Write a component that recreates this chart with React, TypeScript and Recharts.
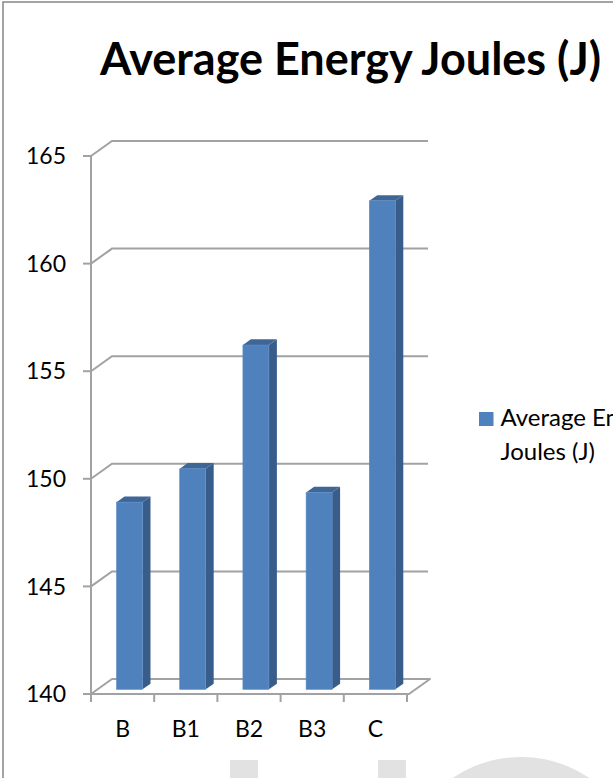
import React from "react";
import { BarChart, Bar, XAxis, YAxis, CartesianGrid } from "recharts";

// ---- data ----
const CATEGORIES = ["B", "B1", "B2", "B3", "C"];
const VALUES = [148.7, 150.25, 156.0, 149.15, 162.7];
const Y_TICKS = [140, 145, 150, 155, 160, 165];
const SERIES_NAME = "Average Energy Joules (J)";
const TITLE = "Average Energy Joules (J)";

const data = CATEGORIES.map((c, i) => ({ name: c, value: VALUES[i] }));

// ---- layout / style ----
const W = 613;
const H = 778;
const Y_AXIS_W = 60;
const X_AXIS_H = 30;
const MARGIN = { top: 156, right: 206, bottom: 54, left: 31 };
const PLOT_LEFT = MARGIN.left + Y_AXIS_W;
const PLOT_RIGHT = W - MARGIN.right;
const PLOT_BOTTOM = H - MARGIN.bottom - X_AXIS_H;
const BAND = (PLOT_RIGHT - PLOT_LEFT) / CATEGORIES.length;
const DEPTH_DX = 21;
const DEPTH_DY = 15;
const BAR_FRONT = 0.31;
const BAR_BACK = 0.69;
const GRID = "#a2a2a2";
const FONT = "Lato, 'Open Sans', sans-serif";
const FRONT_C = "#4f81bd";
const SIDE_C = "#385d8a";
const TOP_C = "#3e6797";

const GridLine = (props: any) => {
  const { x1, x2, y1 } = props;
  const y = y1;
  const isFloor = Math.abs(y - PLOT_BOTTOM) < 1.5;
  if (isFloor) {
    const d = `M${x1},${y} L${x2 + 2},${y} L${x2 + 2 + DEPTH_DX},${y - DEPTH_DY} L${x1 + DEPTH_DX},${y - DEPTH_DY} Z`;
    return <path d={d} fill="none" stroke={GRID} strokeWidth={2} strokeLinejoin="round" />;
  }
  const d = `M${x1},${y} L${x1 + DEPTH_DX},${y - DEPTH_DY} L${x2 + DEPTH_DX},${y - DEPTH_DY}`;
  return <path d={d} fill="none" stroke={GRID} strokeWidth={2} />;
};

const Bar3D = (props: any) => {
  const { x, y, width, height } = props;
  const fx = x + DEPTH_DX * BAR_FRONT;
  const fy = y - DEPTH_DY * BAR_FRONT;
  const sd = DEPTH_DX * (BAR_BACK - BAR_FRONT);
  const sh = DEPTH_DY * (BAR_BACK - BAR_FRONT);
  const side = `M${fx + width},${fy} L${fx + width + sd},${fy - sh} L${fx + width + sd},${fy + height - sh} L${fx + width},${fy + height} Z`;
  const top = `M${fx},${fy} L${fx + sd},${fy - sh} L${fx + width + sd},${fy - sh} L${fx + width},${fy} Z`;
  return (
    <g>
      <path d={side} fill={SIDE_C} />
      <path d={top} fill={TOP_C} />
      <rect x={fx} y={fy} width={width} height={height} fill={FRONT_C} stroke="#5b8cc6" strokeWidth={0.6} />
    </g>
  );
};

const XTick = (props: any) => {
  const { x, payload, index } = props;
  const half = BAND / 2;
  return (
    <g>
      <line x1={x - half} x2={x - half} y1={PLOT_BOTTOM} y2={PLOT_BOTTOM + 8} stroke={GRID} strokeWidth={2} />
      {index === CATEGORIES.length - 1 && (
        <line x1={x + half} x2={x + half} y1={PLOT_BOTTOM} y2={PLOT_BOTTOM + 8} stroke={GRID} strokeWidth={2} />
      )}
      <text x={x} y={PLOT_BOTTOM + 43} textAnchor="middle" fontFamily={FONT} fontSize={23} fill="#000">
        {payload.value}
      </text>
    </g>
  );
};

export default function App() {
  const words = SERIES_NAME.split(" ");
  const legendLines = [words.slice(0, 2).join(" "), words.slice(2).join(" ")];
  return (
    <div style={{ position: "absolute", left: 0, top: 0, width: W, height: H, overflow: "hidden", background: "#fff", fontFamily: FONT }}>
      <BarChart width={W} height={H} data={data} margin={MARGIN} barSize={26}>
        <CartesianGrid horizontal={GridLine} vertical={false} />
        <XAxis
          dataKey="name"
          height={X_AXIS_H}
          axisLine={false}
          tickLine={false}
          tick={<XTick />}
          interval={0}
        />
        <YAxis
          width={Y_AXIS_W}
          domain={[140, 165]}
          ticks={Y_TICKS}
          interval={0}
          allowDataOverflow
          axisLine={{ stroke: GRID, strokeWidth: 2 }}
          tickLine={{ stroke: GRID, strokeWidth: 2 }}
          tickSize={8}
          tickMargin={17}
          tick={{ fill: "#000", fontSize: 23, fontFamily: FONT }}
        />
        <Bar dataKey="value" name={SERIES_NAME} isAnimationActive={false} shape={<Bar3D />} />
      </BarChart>
      <svg width={W} height={H} style={{ position: "absolute", left: 0, top: 0, pointerEvents: "none" }}>
        <rect x={3} y={2} width={W + 20} height={H + 20} fill="none" stroke="#878787" strokeWidth={1.5} />
        <text x={350.5} y={75} textAnchor="middle" fontFamily={FONT} fontWeight={700} fontSize={45} fill="#000">
          {TITLE}
        </text>
        <rect x={479} y={412} width={14.5} height={14} fill={FRONT_C} />
        <text x={500.5} y={426} fontFamily={FONT} fontSize={24} fill="#000">{legendLines[0]}</text>
        <text x={500.5} y={460} fontFamily={FONT} fontSize={24} fill="#000">{legendLines[1]}</text>
        <g fill="#e2e2e2">
          <rect x={230} y={760} width={28} height={30} />
          <rect x={378} y={760} width={28} height={30} />
          <circle cx={521} cy={879} r={122} />
        </g>
      </svg>
    </div>
  );
}
